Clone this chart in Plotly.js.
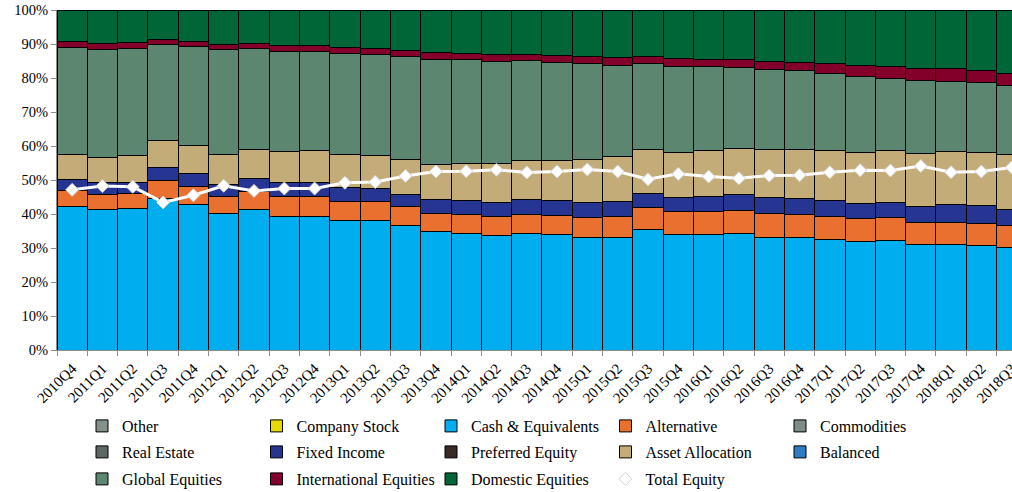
<!DOCTYPE html>
<html>
<head>
<meta charset="utf-8">
<script src="https://cdn.plot.ly/plotly-3.0.1.min.js"></script>
<style>html,body{margin:0;padding:0;background:#fff;}#chart{width:1012px;height:492px;}</style>
</head>
<body>
<div id="chart"></div>
<script>
const quarters = ["2010Q4","2011Q1","2011Q2","2011Q3","2011Q4","2012Q1","2012Q2","2012Q3","2012Q4",
  "2013Q1","2013Q2","2013Q3","2013Q4","2014Q1","2014Q2","2014Q3","2014Q4",
  "2015Q1","2015Q2","2015Q3","2015Q4","2016Q1","2016Q2","2016Q3","2016Q4",
  "2017Q1","2017Q2","2017Q3","2017Q4","2018Q1","2018Q2","2018Q3"];

const other = new Array(32).fill(0);
const companyStock = new Array(32).fill(0);
const commodities = new Array(32).fill(0);
const realEstate = new Array(32).fill(0);
const preferredEquity = new Array(32).fill(0);
const balanced = new Array(32).fill(0);

const cashEquivalents = [42.2,41.2,41.5,44.5,42.8,40.2,41.2,39.4,39.4,38.2,38.2,36.7,34.9,34.4,33.8,34.3,34.0,
  33.0,33.1,35.3,34.0,34.0,34.2,33.1,33.1,32.5,32.0,32.3,31.1,31.1,30.7,30.1];
const alternative = [4.7,4.6,4.5,5.4,5.2,4.9,5.4,5.7,5.7,5.6,5.5,5.4,5.3,5.4,5.5,5.6,5.7,
  6.1,6.3,6.5,6.7,6.8,6.9,7.1,6.9,6.9,6.7,6.6,6.3,6.5,6.6,6.5];
const fixedIncome = [3.3,3.4,3.3,3.8,3.9,3.6,3.7,4.1,4.2,4.0,3.8,3.6,4.1,4.2,4.2,4.4,4.3,
  4.2,4.3,4.3,4.2,4.4,4.5,4.7,4.6,4.5,4.5,4.6,4.8,5.1,5.1,4.8];
const assetAllocation = [7.3,7.5,7.9,8.0,8.3,8.8,8.7,9.1,9.4,9.6,9.7,10.2,10.3,10.9,11.4,11.4,11.7,
  12.6,13.2,13.0,13.1,13.5,13.8,14.1,14.4,14.8,14.9,15.2,15.7,15.6,15.7,16.2];
const globalEquities = [31.5,31.7,31.4,28.2,29.0,30.9,29.6,29.6,29.1,29.9,29.8,30.5,30.9,30.4,30.1,29.4,28.9,
  28.4,26.8,25.2,25.5,24.7,23.8,23.5,23.2,22.7,22.3,21.2,21.4,20.8,20.5,20.2];
const internationalEquities = [1.8,1.8,1.8,1.3,1.4,1.5,1.6,1.6,1.9,1.7,1.7,1.7,1.9,2.0,2.0,1.9,2.0,
  2.0,2.2,2.0,2.2,2.1,2.1,2.5,2.5,2.9,3.3,3.5,3.5,3.7,3.6,3.6];
const domesticEquities = [9.2,9.8,9.6,8.8,9.4,10.1,9.8,10.5,10.3,11.0,11.3,11.9,12.6,12.7,13.0,13.0,13.4,
  13.7,14.1,13.7,14.3,14.5,14.7,15.0,15.3,15.7,16.3,16.6,17.2,17.2,17.8,18.6];
const totalEquity = [47.1,48.2,48.0,43.4,45.5,48.3,46.8,47.5,47.5,49.2,49.4,51.2,52.5,52.6,53.0,52.2,52.5,
  53.1,52.5,50.2,51.8,51.0,50.5,51.3,51.4,52.3,52.9,52.8,54.1,52.3,52.5,53.7];

const FONT = "Liberation Serif, Times New Roman, serif";

function bar(name, vals, color, legend) {
  return {
    type: "bar", name: name, x: quarters, y: vals, legend: legend,
    marker: {color: color, line: {color: "#000", width: 1}},
    hoverinfo: "skip"
  };
}

const data = [
  bar("Other", other, "#83918A", "legend"),
  bar("Company Stock", companyStock, "#E8D800", "legend"),
  bar("Cash & Equivalents", cashEquivalents, "#00ADEE", "legend"),
  bar("Alternative", alternative, "#E9702E", "legend"),
  bar("Commodities", commodities, "#7E8C86", "legend"),
  bar("Real Estate", realEstate, "#5D6864", "legend2"),
  bar("Fixed Income", fixedIncome, "#263592", "legend2"),
  bar("Preferred Equity", preferredEquity, "#3A2A28", "legend2"),
  bar("Asset Allocation", assetAllocation, "#C4AC78", "legend2"),
  bar("Balanced", balanced, "#2E7DC2", "legend2"),
  bar("Global Equities", globalEquities, "#5D8670", "legend3"),
  bar("International Equities", internationalEquities, "#83002A", "legend3"),
  bar("Domestic Equities", domesticEquities, "#006638", "legend3"),
  {
    type: "scatter", mode: "lines+markers", name: "Total Equity", x: quarters, y: totalEquity,
    legend: "legend3",
    line: {color: "#FFFFFF", width: 3},
    marker: {symbol: "diamond", size: 10, color: "#FFFFFF", line: {color: "#D4D4D4", width: 1}},
    hoverinfo: "skip"
  }
];

function leg(yPx) {
  return {
    orientation: "h", xref: "container", yref: "container",
    x: 82 / 1012, xanchor: "left", y: 1 - yPx / 492, yanchor: "middle",
    entrywidth: 129.5, entrywidthmode: "pixels",
    font: {family: FONT, size: 16, color: "#000"},
    bgcolor: "rgba(0,0,0,0)", borderwidth: 0, traceorder: "normal"
  };
}

const layout = {
  width: 1012, height: 492,
  margin: {l: 57, r: 0, t: 10, b: 142},
  paper_bgcolor: "#fff", plot_bgcolor: "#fff",
  barmode: "stack", bargap: 0,
  font: {family: FONT, size: 14, color: "#000"},
  showlegend: true,
  legend: leg(426),
  legend2: leg(452),
  legend3: leg(479),
  xaxis: {
    type: "category", range: [-0.5, 31.01],
    tickangle: -45, ticks: "outside", tickson: "boundaries", ticklen: 5, tickcolor: "#8c8c8c",
    showline: true, linecolor: "#8c8c8c", linewidth: 1,
    tickfont: {family: FONT, size: 15, color: "#000"},
    ticklabelstandoff: 3,
    showgrid: false, zeroline: false, fixedrange: true
  },
  yaxis: {
    range: [0, 100], dtick: 10, ticksuffix: "%",
    ticks: "outside", ticklen: 5, tickcolor: "#8c8c8c",
    showline: true, linecolor: "#8c8c8c", linewidth: 1,
    tickfont: {family: FONT, size: 14.5, color: "#000"},
    showgrid: false, zeroline: false, fixedrange: true
  },
  hovermode: false
};

Plotly.newPlot("chart", data, layout, {displayModeBar: false, staticPlot: true});
</script>
</body>
</html>
